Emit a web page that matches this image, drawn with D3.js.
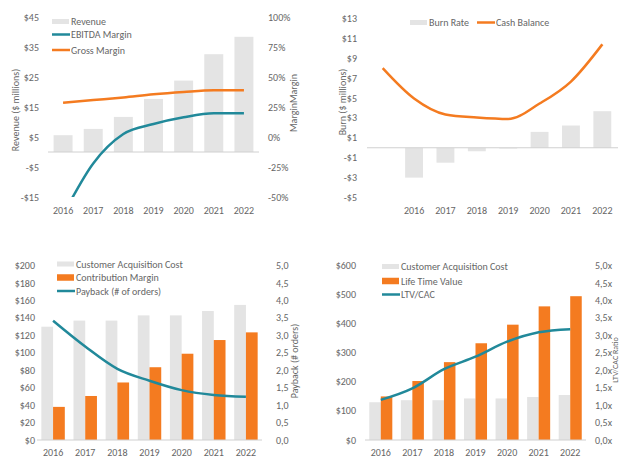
<!DOCTYPE html>
<html><head><meta charset="utf-8">
<script src="https://cdn.jsdelivr.net/npm/d3@7"></script>
<style>
body{margin:0;background:#fff;}
svg{display:block;font-family:Carlito,"Liberation Sans Narrow",Lato,sans-serif;}
text{fill:#666;font-size:10px;}
</style></head><body>
<svg id="c" width="620" height="457"></svg>
<script>
// ---- data ----
const years = ["2016","2017","2018","2019","2020","2021","2022"];
const revenue = [5.6, 7.7, 11.7, 17.7, 23.8, 32.6, 38.4];
const ebitdaMargin = [-0.65, -0.22, 0.025, 0.108, 0.164, 0.197, 0.197];
const grossMargin = [0.286, 0.308, 0.33, 0.356, 0.375, 0.389, 0.39];
const revTicks = [-15, -5, 5, 15, 25, 35, 45];
const marginTicks = [-0.5, -0.25, 0, 0.25, 0.5, 0.75, 1.0];

const cashYears = ["", "2016","2017","2018","2019","2020","2021","2022"];
const burnRate = [null, -3.0, -1.5, -0.35, -0.08, 1.6, 2.24, 3.68];
const cashBalance = [8.0, 4.95, 3.35, 3.05, 2.9, 4.45, 6.66, 10.4];
const burnTicks = [-5, -3, -1, 1, 3, 5, 7, 9, 11, 13];

const cac = [130, 137, 137, 143, 143, 148, 155];
const contributionMargin = [38, 50.5, 66, 83.5, 99, 114.7, 123.5];
const payback = [3.42, 2.68, 2.04, 1.70, 1.43, 1.29, 1.24];
const cacTicks = [0, 20, 40, 60, 80, 100, 120, 140, 160, 180, 200];
const ratioTicks = [0, 0.5, 1, 1.5, 2, 2.5, 3, 3.5, 4, 4.5, 5];

const ltv = [150, 203, 268, 333, 397, 460, 495];
const ltvCac = [1.15, 1.48, 2.03, 2.39, 2.82, 3.09, 3.18];
const ltvTicks = [0, 100, 200, 300, 400, 500, 600];

// ---- styles ----
const GRAY = "#e4e4e4", ORANGE = "#f47b20", TEAL = "#21899a", AXIS = "#d0d0d0";
const svg = d3.select("#c");
const curve = d3.curveMonotoneX;
const dollar = v => (v < 0 ? "-$" : "$") + Math.abs(v);
const comma1 = v => d3.format(".1f")(v).replace(".", ",");

function leftTicks(g, y, ticks, xEnd, fmt) {
  g.selectAll(null).data(ticks).join("text")
    .attr("x", xEnd).attr("y", d => y(d)).attr("dy", "0.35em")
    .attr("text-anchor", "end").text(fmt);
}
function rightTicks(g, y, ticks, xStart, fmt) {
  g.selectAll(null).data(ticks).join("text")
    .attr("x", xStart).attr("y", d => y(d)).attr("dy", "0.35em")
    .attr("text-anchor", "start").text(fmt);
}
function xLabels(g, x, cats, yPos) {
  g.selectAll(null).data(cats.filter(c => c !== "")).join("text")
    .attr("x", d => x(d) + x.bandwidth() / 2).attr("y", yPos).attr("dy", "0.35em")
    .attr("text-anchor", "middle").text(d => d);
}
function vTitle(g, x, y, txt, size) {
  const t = g.append("text").attr("transform", `translate(${x},${y}) rotate(-90)`)
    .attr("text-anchor", "middle").text(txt);
  if (size) t.style("font-size", size + "px");
}
function legendRect(g, x, y, h, color, label) {
  g.append("rect").attr("x", x).attr("y", y - h / 2).attr("width", 17).attr("height", h).attr("fill", color);
  g.append("text").attr("x", x + 19).attr("y", y).attr("dy", "0.35em").text(label);
}
function legendLine(g, x, y, color, label) {
  g.append("line").attr("x1", x).attr("x2", x + 18).attr("y1", y).attr("y2", y)
    .attr("stroke", color).attr("stroke-width", 2.5);
  g.append("text").attr("x", x + 19).attr("y", y).attr("dy", "0.35em").text(label);
}
function lineOf(x, y, vals, cats) {
  return d3.line().defined(d => d != null)
    .x((d, i) => x(cats[i]) + x.bandwidth() / 2).y(d => y(d)).curve(curve)(vals);
}

// ---- Panel 1: Revenue / margins ----
{
  const g = svg.append("g");
  const x = d3.scaleBand().domain(years).range([48, 259]).paddingInner(0.37).paddingOuter(0.185);
  const yL = d3.scaleLinear().domain([-15, 45]).range([197, 17]);
  const yR = d3.scaleLinear().domain([-0.5, 1.0]).range([197, 17]);
  svg.append("clipPath").attr("id", "clip1").append("rect")
    .attr("x", 40).attr("y", 17).attr("width", 230).attr("height", 180);
  g.selectAll(null).data(revenue).join("rect")
    .attr("x", (d, i) => x(years[i])).attr("width", x.bandwidth())
    .attr("y", d => yL(Math.max(0, d))).attr("height", d => Math.abs(yL(d) - yL(0)))
    .attr("fill", GRAY);
  g.append("line").attr("x1", 48).attr("x2", 259).attr("y1", yL(0)).attr("y2", yL(0))
    .attr("stroke", AXIS).attr("stroke-width", 1);
  const lx = d3.scaleBand().domain(years).range([48, 259]);
  g.append("path").attr("d", lineOf(lx, yR, ebitdaMargin, years)).attr("fill", "none")
    .attr("stroke", TEAL).attr("stroke-width", 2.5).attr("clip-path", "url(#clip1)");
  g.append("path").attr("d", lineOf(lx, yR, grossMargin, years)).attr("fill", "none")
    .attr("stroke", ORANGE).attr("stroke-width", 2.5).attr("clip-path", "url(#clip1)");
  leftTicks(g, yL, revTicks, 39, dollar);
  rightTicks(g, yR, marginTicks, 268, d => Math.round(d * 100) + "%");
  xLabels(g, x, years, 210);
  vTitle(g, 19, 110, "Revenue ($ millions)");
  vTitle(g, 297, 103, "MarginMargin");
  legendRect(g, 52, 21.5, 5, GRAY, "Revenue");
  legendLine(g, 52, 34.5, TEAL, "EBITDA Margin");
  legendLine(g, 52, 50, ORANGE, "Gross Margin");
}

// ---- Panel 2: Burn rate / cash balance ----
{
  const g = svg.append("g");
  const x = d3.scaleBand().domain(cashYears).range([367, 618]).paddingInner(0.43).paddingOuter(0.215);
  const y = d3.scaleLinear().domain([-5, 13]).range([197.5, 18.5]);
  const burnData = burnRate.map((v, i) => ({cat: cashYears[i], v})).filter(d => d.v != null);
  g.selectAll(null).data(burnData).join("rect")
    .attr("x", d => x(d.cat)).attr("width", x.bandwidth())
    .attr("y", d => y(Math.max(0, d.v))).attr("height", d => Math.abs(y(d.v) - y(0)))
    .attr("fill", GRAY);
  g.append("line").attr("x1", 367).attr("x2", 618).attr("y1", y(0)).attr("y2", y(0))
    .attr("stroke", AXIS).attr("stroke-width", 1);
  g.append("path").attr("d", lineOf(x, y, cashBalance, cashYears)).attr("fill", "none")
    .attr("stroke", ORANGE).attr("stroke-width", 2.5);
  leftTicks(g, y, burnTicks, 357, dollar);
  xLabels(g, x, cashYears, 210);
  vTitle(g, 346, 102, "Burn ($ millions)");
  legendRect(g, 410, 22.5, 5, GRAY, "Burn Rate");
  legendLine(g, 477, 22.5, ORANGE, "Cash Balance");
}

// ---- Panel 3: CAC / contribution margin / payback ----
{
  const g = svg.append("g");
  const x = d3.scaleBand().domain(years).range([37, 262]).paddingInner(0.27).paddingOuter(0.135);
  const sub = d3.scaleBand().domain(["cac", "cm"]).range([0, x.bandwidth()]);
  const yL = d3.scaleLinear().domain([0, 200]).range([440, 265.7]);
  const yR = d3.scaleLinear().domain([0, 5]).range([440, 265.7]);
  g.selectAll(null).data(cac).join("rect")
    .attr("x", (d, i) => x(years[i]) + sub("cac")).attr("width", sub.bandwidth())
    .attr("y", d => yL(d)).attr("height", d => yL(0) - yL(d)).attr("fill", GRAY);
  g.selectAll(null).data(contributionMargin).join("rect")
    .attr("x", (d, i) => x(years[i]) + sub("cm")).attr("width", sub.bandwidth())
    .attr("y", d => yL(d)).attr("height", d => yL(0) - yL(d)).attr("fill", ORANGE);
  g.append("line").attr("x1", 37).attr("x2", 262).attr("y1", yL(0)).attr("y2", yL(0))
    .attr("stroke", AXIS).attr("stroke-width", 1);
  g.append("path").attr("d", lineOf(x, yR, payback, years)).attr("fill", "none")
    .attr("stroke", TEAL).attr("stroke-width", 2.5);
  leftTicks(g, yL, cacTicks, 35, d => "$" + d);
  rightTicks(g, yR, ratioTicks, 276, comma1);
  xLabels(g, x, years, 452);
  vTitle(g, 298, 361, "Payback (# orders)");
  legendRect(g, 57, 264, 5, GRAY, "Customer Acquisition Cost");
  legendRect(g, 57, 277.5, 6.5, ORANGE, "Contribution Margin");
  legendLine(g, 57, 291, TEAL, "Payback (# of orders)");
}

// ---- Panel 4: CAC / LTV / ratio ----
{
  const g = svg.append("g");
  const x = d3.scaleBand().domain(years).range([365, 586]).paddingInner(0.27).paddingOuter(0.135);
  const sub = d3.scaleBand().domain(["cac", "ltv"]).range([0, x.bandwidth()]);
  const yL = d3.scaleLinear().domain([0, 600]).range([440, 265.7]);
  const yR = d3.scaleLinear().domain([0, 5]).range([440, 265.7]);
  g.selectAll(null).data(cac).join("rect")
    .attr("x", (d, i) => x(years[i]) + sub("cac")).attr("width", sub.bandwidth())
    .attr("y", d => yL(d)).attr("height", d => yL(0) - yL(d)).attr("fill", GRAY);
  g.selectAll(null).data(ltv).join("rect")
    .attr("x", (d, i) => x(years[i]) + sub("ltv")).attr("width", sub.bandwidth())
    .attr("y", d => yL(d)).attr("height", d => yL(0) - yL(d)).attr("fill", ORANGE);
  g.append("line").attr("x1", 365).attr("x2", 586).attr("y1", yL(0)).attr("y2", yL(0))
    .attr("stroke", AXIS).attr("stroke-width", 1);
  g.append("path").attr("d", lineOf(x, yR, ltvCac, years)).attr("fill", "none")
    .attr("stroke", TEAL).attr("stroke-width", 2.5);
  leftTicks(g, yL, ltvTicks, 356, d => "$" + d);
  rightTicks(g, yR, ratioTicks, 595, d => comma1(d) + "x");
  xLabels(g, x, years, 452);
  vTitle(g, 618, 360, "LTV/CAC Ratio", 8);
  legendRect(g, 382, 266.5, 5, GRAY, "Customer Acquisition Cost");
  legendRect(g, 382, 281, 6.5, ORANGE, "Life Time Value");
  legendLine(g, 382, 294.5, TEAL, "LTV/CAC");
}
</script></body></html>
